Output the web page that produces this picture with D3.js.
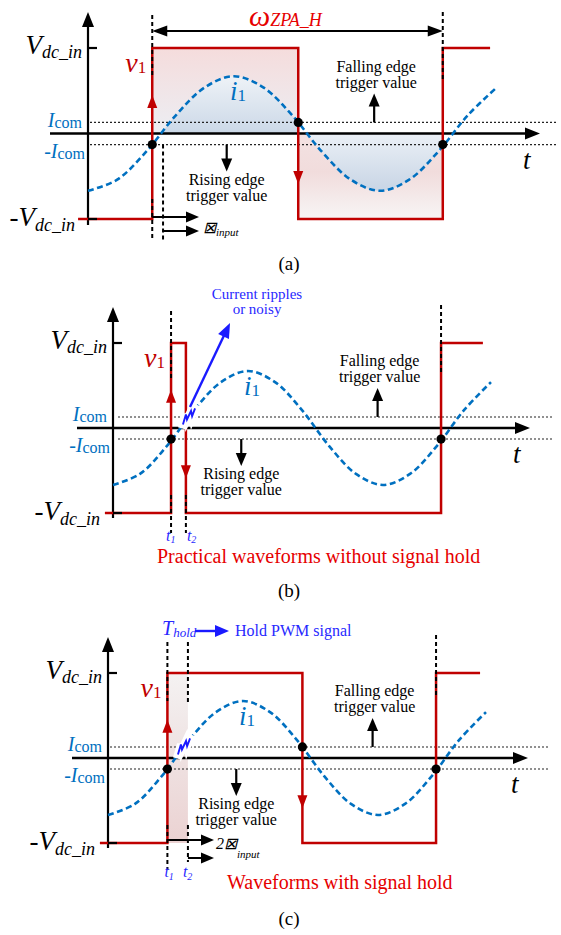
<!DOCTYPE html>
<html>
<head>
<meta charset="utf-8">
<script src="https://cdn.jsdelivr.net/npm/d3@7"></script>
<style>
  html, body { margin: 0; padding: 0; background: #fff; }
  svg { display: block; font-family: "Liberation Serif", "Times New Roman", serif; }
</style>
</head>
<body>
<svg id="fig" width="561" height="935"></svg>
<script>
// ---------------- waveform data ----------------
// time is measured in periods of i1 (t = 0 at the vertical axis),
// levels are normalised to Vdc_in.
const sineT  = [0, 0.1, 0.2, 0.3, 0.4, 0.5, 0.6, 0.7, 0.8, 0.9, 1.0, 1.1, 1.2, 1.3, 1.4];
const i1Wave = [-0.67, -0.54, -0.21, 0.21, 0.54, 0.67, 0.54, 0.21, -0.21, -0.54, -0.67, -0.54, -0.21, 0.21, 0.54];
const iCom = 0.13;                       // comparator threshold +/- Icom
const v1Levels = [-1, 1, -1, 1];         // v1 level before/after each edge

const edgesA = [0.22, 0.72, 1.215];      // (a) rise, fall, rise
const spanA  = [-0.034, 1.377];
const delayA = 0.257;                    // second marker line in (a)

const edgesB = [0.215, 0.27, 1.215];     // (b) t1, t2, next rise
const spanB  = [-0.03, 1.37];

const edgesC = [0.22, 0.72, 1.215];      // (c) rise, fall, rise
const spanC  = [-0.03, 1.378];
const holdC  = [0.22, 0.296];            // (c) hold window t1..t2

const rippleT = [0.259, 0.27, 0.274, 0.289, 0.293, 0.304];
const rippleV = [0.04, 0.16, 0.10, 0.20, 0.14, 0.23];

const tags = ['(a)', '(b)', '(c)'];
const captions = ['', 'Practical waveforms without signal hold', 'Waveforms with signal hold'];

// ---------------- styling ----------------
const RED = '#c00000', BRIGHT_RED = '#e60000', BLUE = '#0070c0', TBLUE = '#2828ff', INK = '#000';

// panel geometry (pixels)
const geo = [
  { ax: 88,  k: 292, yTop: 48,  yBot: 219, xa: [50, 540], ya: [12, 225],  dot: [90, 558],  tag: 270 },
  { ax: 113, k: 270, yTop: 343, yBot: 513, xa: [77, 530], ya: [307, 518], dot: [118, 552], tag: 597 },
  { ax: 108, k: 270, yTop: 673, yBot: 843, xa: [72, 528], ya: [637, 848], dot: [110, 548], tag: 925 }
];

const svg = d3.select('#fig');
const defs = svg.append('defs');

function grad(id, x1, y1, x2, y2, stops) {
  const gr = defs.append('linearGradient').attr('id', id)
    .attr('gradientUnits', 'userSpaceOnUse')
    .attr('x1', x1).attr('y1', y1).attr('x2', x2).attr('y2', y2);
  stops.forEach(s => gr.append('stop').attr('offset', s[0]).attr('stop-color', s[1]));
}

function tri(g, tx, ty, ang, len, half, color) {
  const c = Math.cos(ang), s = Math.sin(ang);
  const bx = tx - len * c, by = ty - len * s;
  const px = -s * half, py = c * half;
  g.append('path')
    .attr('d', `M${tx},${ty}L${bx + px},${by + py}L${bx - px},${by - py}Z`)
    .attr('fill', color);
}

function arrow(g, x1, y1, x2, y2, color, w, len, half) {
  const ang = Math.atan2(y2 - y1, x2 - x1);
  g.append('line')
    .attr('x1', x1).attr('y1', y1)
    .attr('x2', x2 - len * 0.8 * Math.cos(ang)).attr('y2', y2 - len * 0.8 * Math.sin(ang))
    .attr('stroke', color).attr('stroke-width', w);
  tri(g, x2, y2, ang, len, half, color);
}

function rich(g, x, y, parts, anchor, color) {
  const t = g.append('text').attr('x', x).attr('y', y)
    .attr('text-anchor', anchor || 'start').attr('fill', color || INK);
  parts.forEach(p => t.append('tspan').text(p[0])
    .attr('font-size', p[1])
    .attr('font-style', p[2] ? 'italic' : 'normal')
    .attr('dy', p[3] || 0));
  return t;
}

function vline(g, xp, y1, y2) {
  g.append('line').attr('x1', xp).attr('x2', xp).attr('y1', y1).attr('y2', y2)
    .attr('stroke', INK).attr('stroke-width', 2).attr('stroke-dasharray', '4,3');
}

function setup(i) {
  const G = geo[i];
  const g = svg.append('g').attr('class', 'panel-' + i);
  const x = d3.scaleLinear().domain([0, 1]).range([G.ax, G.ax + G.k]);
  const y = d3.scaleLinear().domain([-1, 1]).range([G.yBot, G.yTop]);
  return { g, x, y, G };
}

const sinePts = sineT.map((t, j) => [t, i1Wave[j]]);

function base(P, edges, span, dotIdx) {
  const { g, x, y, G } = P;
  const y0 = y(0);

  // threshold lines
  [iCom, -iCom].forEach(v => {
    g.append('line').attr('x1', G.dot[0]).attr('x2', G.dot[1])
      .attr('y1', y(v)).attr('y2', y(v))
      .attr('stroke', '#222').attr('stroke-width', 1.1).attr('stroke-dasharray', '2,2');
  });

  // axes
  g.append('line').attr('x1', G.xa[0]).attr('x2', G.xa[1] - 10).attr('y1', y0).attr('y2', y0)
    .attr('stroke', INK).attr('stroke-width', 2.4);
  tri(g, G.xa[1], y0, 0, 15, 6, INK);
  g.append('line').attr('x1', G.ax).attr('x2', G.ax).attr('y1', G.ya[0] + 10).attr('y2', G.ya[1])
    .attr('stroke', INK).attr('stroke-width', 2.2);
  tri(g, G.ax, G.ya[0], -Math.PI / 2, 15, 6, INK);

  // i1
  g.append('path').datum(sinePts)
    .attr('d', d3.line().x(d => x(d[0])).y(d => y(d[1])).curve(d3.curveCatmullRom.alpha(0.5)))
    .attr('fill', 'none').attr('stroke', BLUE).attr('stroke-width', 2.6)
    .attr('stroke-dasharray', '6,3.5');

  // v1 square wave
  const pts = [[span[0], v1Levels[0]]];
  edges.forEach((e, j) => { pts.push([e, v1Levels[j]]); pts.push([e, v1Levels[j + 1]]); });
  pts.push([span[1], v1Levels[v1Levels.length - 1]]);
  g.append('path').datum(pts)
    .attr('d', d3.line().x(d => x(d[0])).y(d => y(d[1])))
    .attr('fill', 'none').attr('stroke', RED).attr('stroke-width', 2.5);

  // axis ticks at +/- Vdc_in
  [1, -1].forEach(v => g.append('line').attr('x1', G.ax).attr('x2', G.ax + 9)
    .attr('y1', y(v)).attr('y2', y(v)).attr('stroke', INK).attr('stroke-width', 2.2));

  // edge direction markers
  tri(g, x(edges[0]), y(0.45), -Math.PI / 2, 13, 5, RED);
  tri(g, x(edges[1]), y(-0.59), Math.PI / 2, 13, 5, RED);

  P.dots = () => dotIdx.forEach(j => {
    const rising = v1Levels[j + 1] > v1Levels[j];
    g.append('circle').attr('cx', x(edges[j])).attr('cy', y(rising ? -iCom : iCom))
      .attr('r', 4.6).attr('fill', INK);
  });

  // axis labels
  rich(g, G.ax - 6, G.yTop + 6, [['V', 27, 1], ['dc_in', 18, 1, 4]], 'end');
  rich(g, G.ax - 13, G.yBot + 7, [['-V', 27, 1], ['dc_in', 18, 1, 5]], 'end');
  rich(g, G.ax - 6, y0 - 7, [['I', 20, 1], ['com', 16, 0, 1]], 'end', BLUE);
  rich(g, G.ax - 3, y0 + 24, [['-I', 20, 1], ['com', 16, 0, 1]], 'end', BLUE);
  rich(g, x(edges[0]) - 6, G.yTop + 24, [['v', 28, 1], ['1', 17, 0, 1]], 'end', RED);
  rich(g, x(0.5) - 4, G.yTop + 52, [['i', 27, 1], ['1', 17, 0, 1]], 'start', BLUE);
  rich(g, G.xa[1] - 17, y0 + 35, [['t', 27, 1]]);

  // trigger annotations
  const xf = x(0.98);
  arrow(g, xf, y(iCom), xf, y0 - 40, INK, 2.2, 13, 5.5);
  rich(g, xf + 2, y0 - 62, [['Falling edge', 16]], 'middle');
  rich(g, xf + 2, y0 - 46, [['trigger value', 16]], 'middle');
  const xr = x(0.475);
  arrow(g, xr, y(-iCom), xr, y0 + 38, INK, 2.2, 13, 5.5);
  rich(g, xr, y0 + 51, [['Rising edge', 16]], 'middle');
  rich(g, xr, y0 + 67, [['trigger value', 16]], 'middle');
}

function ripple(P) {
  const { g, x, y } = P;
  const rp = rippleT.map((t, j) => [t, rippleV[j]]);
  const ln = d3.line().x(d => x(d[0])).y(d => y(d[1]));
  g.append('path').datum(rp).attr('d', ln).attr('fill', 'none')
    .attr('stroke', '#fff').attr('stroke-width', 8).attr('stroke-linecap', 'square');
  g.append('path').datum(rp).attr('d', ln).attr('fill', 'none')
    .attr('stroke', '#1a1aff').attr('stroke-width', 1.9);
}

// ================= (a) =================
{
  const P = setup(0);
  const { g, x, y, G } = P;
  const y0 = y(0);
  grad('pinkUpA', 0, G.yTop, 0, y0, [[0, '#f5dcdc'], [1, '#eceef3']]);
  grad('pinkDnA', 0, y0, 0, G.yBot, [[0, '#f3e2e2'], [0.45, '#f1dcdc'], [1, '#f7f5f5']]);
  grad('blueUpA', 0, y(0.67), 0, y0, [[0, '#eef2f7'], [1, '#cbd8e7']]);
  grad('blueDnA', 0, y0, 0, y(-0.67), [[0, '#ebf0f6'], [1, '#c8d5e5']]);

  defs.append('clipPath').attr('id', 'clipUpA').append('rect')
    .attr('x', x(edgesA[0])).attr('y', y(1)).attr('width', x(edgesA[1]) - x(edgesA[0])).attr('height', y0 - y(1));
  defs.append('clipPath').attr('id', 'clipDnA').append('rect')
    .attr('x', x(edgesA[1])).attr('y', y0).attr('width', x(edgesA[2]) - x(edgesA[1])).attr('height', y(-1) - y0);

  g.append('rect').attr('x', x(edgesA[0])).attr('y', y(1))
    .attr('width', x(edgesA[1]) - x(edgesA[0])).attr('height', y0 - y(1)).attr('fill', 'url(#pinkUpA)');
  g.append('rect').attr('x', x(edgesA[1])).attr('y', y0)
    .attr('width', x(edgesA[2]) - x(edgesA[1])).attr('height', y(-1) - y0).attr('fill', 'url(#pinkDnA)');

  const ar = d3.area().x(d => x(d[0])).y0(y0).y1(d => y(d[1])).curve(d3.curveCatmullRom.alpha(0.5));
  g.append('path').datum(sinePts).attr('d', ar).attr('fill', 'url(#blueUpA)').attr('clip-path', 'url(#clipUpA)');
  g.append('path').datum(sinePts).attr('d', ar).attr('fill', 'url(#blueDnA)').attr('clip-path', 'url(#clipDnA)');

  base(P, edgesA, spanA, [0, 1, 2]);

  // marker lines
  vline(g, x(edgesA[0]), 15, G.yTop + 30);
  vline(g, x(edgesA[0]), G.yBot - 20, G.yBot + 21);
  vline(g, x(delayA), y(-iCom), G.yBot + 21);
  vline(g, x(edgesA[2]), 12, G.yTop + 32);
  P.dots();

  // switching period arrow
  const ya = 31;
  g.append('line').attr('x1', x(edgesA[0]) + 10).attr('x2', x(edgesA[2]) - 10)
    .attr('y1', ya).attr('y2', ya).attr('stroke', INK).attr('stroke-width', 1.8);
  tri(g, x(edgesA[0]), ya, Math.PI, 15, 5.5, INK);
  tri(g, x(edgesA[2]), ya, 0, 15, 5.5, INK);
  rich(g, 249, 26, [['ω', 30, 1], ['ZPA_H', 18, 1, 0]], 'start', BRIGHT_RED);

  // phase-delay arrows
  arrow(g, x(edgesA[0]), G.yBot - 2, 199, G.yBot - 2, INK, 2, 13, 5.5);
  arrow(g, x(delayA), G.yBot + 12, 199, G.yBot + 12, INK, 2, 13, 5.5);
  rich(g, 203, G.yBot + 14, [['⊠', 16, 1], ['input', 11, 1, 3]]);

  rich(g, 289, G.tag, [['(a)', 19]], 'middle');
}

// ================= (b) =================
{
  const P = setup(1);
  const { g, x, y, G } = P;
  base(P, edgesB, spanB, [0, 2]);

  vline(g, x(edgesB[0]), G.yTop - 32, G.yTop + 35);
  vline(g, x(edgesB[0]), G.yBot - 18, G.yBot + 20);
  vline(g, x(edgesB[1]), G.yBot - 18, G.yBot + 20);
  vline(g, x(edgesB[2]), G.yTop - 38, G.yTop + 30);
  P.dots();

  ripple(P);

  // noise annotation
  arrow(g, 190, 407, 230, 323, '#1a1aff', 2.4, 15, 6);
  rich(g, 257, 299, [['Current ripples', 15]], 'middle', TBLUE);
  rich(g, 257, 314, [['or noisy', 15]], 'middle', TBLUE);

  rich(g, x(edgesB[0]) - 5, G.yBot + 28, [['t', 16, 1], ['1', 10, 1, 2]], 'start', TBLUE);
  rich(g, x(edgesB[1]) + 1, G.yBot + 28, [['t', 16, 1], ['2', 10, 1, 2]], 'start', TBLUE);

  rich(g, 157, 563, [[captions[1], 20]], 'start', BRIGHT_RED);
  rich(g, 289, G.tag, [['(b)', 19]], 'middle');
}

// ================= (c) =================
{
  const P = setup(2);
  const { g, x, y, G } = P;
  grad('holdC', 0, G.yTop, 0, G.yBot, [[0, '#f4f2f2'], [0.45, '#efe3e3'], [1, '#ebd2d2']]);
  g.append('rect').attr('x', x(holdC[0])).attr('y', y(1))
    .attr('width', x(holdC[1]) - x(holdC[0])).attr('height', y(-1) - y(1)).attr('fill', 'url(#holdC)');

  base(P, edgesC, spanC, [0, 1, 2]);

  vline(g, x(holdC[0]), G.yTop - 31, G.yTop + 28);
  vline(g, x(holdC[1]), G.yTop - 31, G.yTop + 32);
  vline(g, x(holdC[0]), G.yBot - 18, G.yBot + 27);
  vline(g, x(holdC[1]), G.yBot - 18, G.yBot + 19);
  vline(g, x(edgesC[2]), G.yTop - 38, G.yTop + 25);
  P.dots();

  ripple(P);

  // hold annotation
  rich(g, 162, G.yTop - 38, [['T', 20, 1], ['hold', 13, 1, 2]], 'start', TBLUE);
  arrow(g, 195, G.yTop - 42, 229, G.yTop - 42, '#1a1aff', 2.4, 14, 6);
  rich(g, 235, G.yTop - 37, [['Hold PWM signal', 16]], 'start', TBLUE);

  arrow(g, x(holdC[0]), G.yBot - 3, 214, G.yBot - 3, INK, 2, 13, 5.5);
  arrow(g, x(holdC[1]), G.yBot + 15, 214, G.yBot + 15, INK, 2, 13, 5.5);
  rich(g, 216, G.yBot + 6, [['2⊠', 16, 1], ['input', 11, 1, 9]]);

  rich(g, x(holdC[0]) - 3, G.yBot + 34, [['t', 16, 1], ['1', 10, 1, 3]], 'start', TBLUE);
  rich(g, x(holdC[1]) - 5, G.yBot + 34, [['t', 16, 1], ['2', 10, 1, 3]], 'start', TBLUE);

  rich(g, 227, 889, [[captions[2], 20]], 'start', BRIGHT_RED);
  rich(g, 289, G.tag, [['(c)', 19]], 'middle');
}
</script>
</body>
</html>
